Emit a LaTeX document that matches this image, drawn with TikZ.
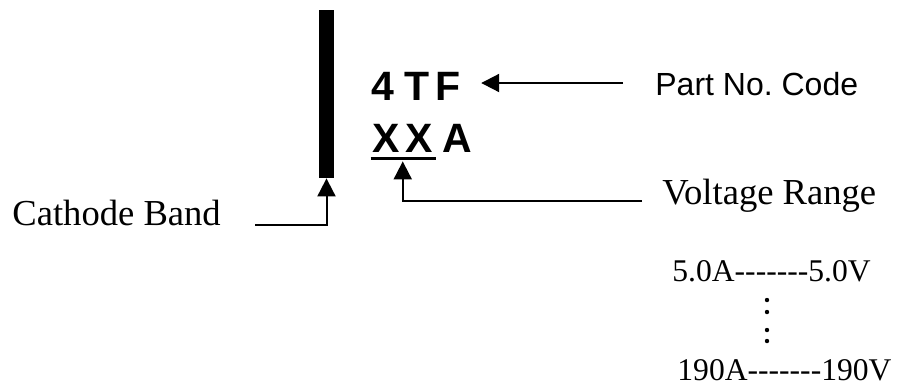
\documentclass[tikz,border=0pt]{standalone}
\usepackage{fontspec}
\setmainfont{Liberation Serif}
\newfontfamily\codefont{Liberation Sans}
\usetikzlibrary{arrows.meta}
\frenchspacing

\tikzset{
  lbl/.style={inner sep=0pt, anchor=base west, font=\fontsize{18.3}{21}\selectfont},
  code/.style={inner sep=0pt, anchor=base west, font=\codefont\bfseries\fontsize{20.5}{24}\selectfont},
  vrow/.style={inner sep=0pt, anchor=base west, font=\fontsize{15.8}{18}\selectfont},
  arr/.style={line width=1pt, -{Triangle[length=9pt,width=9pt]}}
}

\begin{document}
\begin{tikzpicture}[x=0.5pt,y=-0.5pt]
        \useasboundingbox (0,0) rectangle (901,388);
        % cathode band
        \node[fill=black, inner sep=0pt, minimum width=7.5pt, minimum height=84pt] (band) at (326.5,94) {};
        % marking
        \node[code] (tf) at (371.5,100) {4\hspace{5pt}T\hspace{3pt}F};
        \node[code] (xx) at (372.5,152) {X\hspace{2.5pt}X};
        \node[code] (a) at (442.5,152) {A};
        \draw[line width=1.5pt] ([xshift=-1pt,yshift=-3pt]xx.south west) -- ([xshift=1.5pt,yshift=-3pt]xx.south east);
        % labels
        \node[lbl] (cathode) at (12,225) {Cathode Band};
        \node[lbl] (voltage) at (662,204) {Voltage Range};
        \node[lbl, font=\codefont\fontsize{16}{19}\selectfont] (part) at (655,95) {Part No. Code};
        \node[vrow] (low) at (672,281) {5.0A-{}-{}-{}-{}-{}-{}-5.0V};
        \node[vrow] (high) at (677,380) {190A-{}-{}-{}-{}-{}-{}-190V};
        \foreach \y in {300,312,330,341}
            \fill (767,\y) circle (1.1pt);
        % connectors
        \coordinate (cb) at (255,225);
        \draw[arr] (cb) -- (cb -| band.south) -- (band.south);
        \coordinate (vr) at (642,201);
        \draw[arr] (vr) -- (vr -| xx.south) -- ([yshift=-4.5pt]xx.south);
        \coordinate (pn) at (623,83);
        \coordinate (tftip) at ([xshift=10pt]tf.east);
        \draw[arr] (pn) -- (pn -| tftip);
    \end{tikzpicture}
\end{document}
